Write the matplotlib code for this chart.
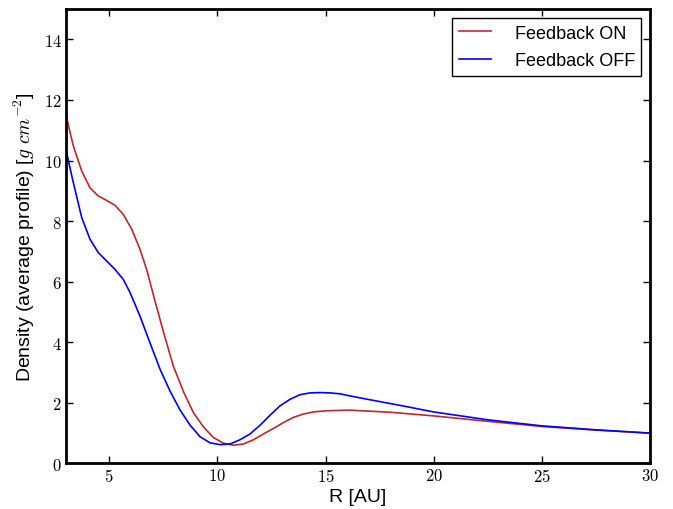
import matplotlib
matplotlib.use("Agg")
import matplotlib.pyplot as plt
from matplotlib.ticker import FuncFormatter, MultipleLocator

plt.rcParams["font.family"] = ["Liberation Sans", "DejaVu Sans"]
plt.rcParams["mathtext.fontset"] = "cm"

# Azimuthally averaged surface density profiles
r_on = [3.0, 3.34, 3.73, 4.11, 4.49, 4.88, 5.27, 5.65, 6.04, 6.42, 6.73, 7.08,
        7.5, 7.96, 8.45, 8.89, 9.35, 9.81, 10.27, 10.74, 11.2, 11.66, 12.12,
        12.58, 13.05, 13.51, 13.97, 14.43, 15.05, 16.13, 18.0, 20.0, 22.5,
        25.0, 27.5, 30.0]
sigma_on = [11.5, 10.48, 9.65, 9.10, 8.83, 8.68, 8.52, 8.22, 7.73, 7.07, 6.40, 5.45,
            4.35, 3.21, 2.33, 1.67, 1.20, 0.85, 0.66, 0.59, 0.63, 0.77, 0.96,
            1.14, 1.34, 1.51, 1.62, 1.69, 1.73, 1.75, 1.68, 1.56, 1.38,
            1.21, 1.09, 0.99]

r_off = [3.0, 3.34, 3.73, 4.11, 4.49, 4.88, 5.27, 5.65, 5.96, 6.42, 6.88, 7.35,
         7.81, 8.27, 8.73, 9.2, 9.66, 10.12, 10.58, 11.04, 11.5, 11.97, 12.43,
         12.89, 13.36, 13.82, 14.28, 14.74, 15.2, 15.67, 16.13, 17.0, 18.5,
         20.0, 22.5, 25.0, 27.5, 30.0]
sigma_off = [10.35, 9.27, 8.11, 7.40, 6.96, 6.68, 6.40, 6.07, 5.64, 4.86, 3.98, 3.10,
             2.38, 1.76, 1.26, 0.87, 0.67, 0.61, 0.63, 0.77, 0.96, 1.25, 1.58,
             1.89, 2.11, 2.26, 2.32, 2.33, 2.32, 2.29, 2.22, 2.10, 1.90,
             1.69, 1.43, 1.23, 1.10, 0.99]

labels = ["Feedback ON", "Feedback OFF"]

fig = plt.figure(figsize=(6.73, 5.10), dpi=100)
ax = fig.add_axes([0.098, 0.090, 0.868, 0.890])

ax.plot(r_on, sigma_on, color="#c0272d", lw=1.2, label=labels[0])
ax.plot(r_off, sigma_off, color="#0000ff", lw=1.2, label=labels[1])

ax.set_xlim(3, 30)
ax.set_ylim(0, 15)
ax.xaxis.set_major_locator(MultipleLocator(5))
ax.yaxis.set_major_locator(MultipleLocator(2))
fmt = FuncFormatter(lambda v, p: r"$%d$" % int(round(v)))
ax.xaxis.set_major_formatter(fmt)
ax.yaxis.set_major_formatter(fmt)
ax.tick_params(direction="in", top=True, right=True, length=5, width=1,
               labelsize=12, colors="black", pad=3)
for s in ax.spines.values():
    s.set_linewidth(2)

ax.set_xlabel("R [AU]", fontsize=14, labelpad=3)
ax.set_ylabel(r"Density (average profile) [$g\ cm^{-2}$]", fontsize=14, labelpad=5)

leg = ax.legend(loc="upper right", fontsize=13, fancybox=False, framealpha=1,
                edgecolor="black", handlelength=1.8, handletextpad=1.3,
                borderpad=0.35, borderaxespad=0.5, labelspacing=0.6)
leg.get_frame().set_linewidth(1.0)

fig.savefig("out.png", dpi=100)
